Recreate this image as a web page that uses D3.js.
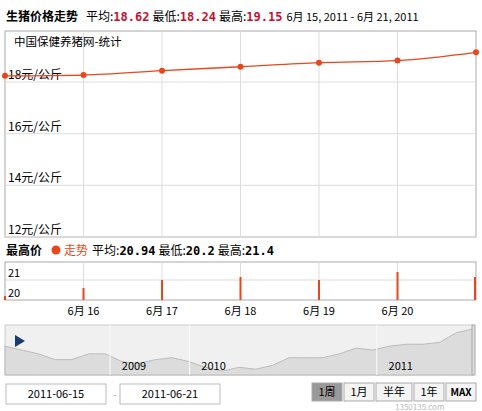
<!DOCTYPE html><html><head><meta charset="utf-8"><script src="https://cdn.jsdelivr.net/npm/d3@7"></script>
<style>body{margin:0;background:#fff;font-family:"Noto Sans CJK SC","DejaVu Sans",sans-serif}</style></head><body><svg id="c" width="482" height="411"></svg>
<script>
const dates=["6月 15","6月 16","6月 17","6月 18","6月 19","6月 20","6月 21"];
const dayLabels=["6月  16","6月  17","6月  18","6月  19","6月  20"];
const avgPrice=[18.24,18.27,18.44,18.59,18.75,18.83,19.15];
const highPrice=[20.2,20.6,21.0,21.15,21.0,21.4,21.15];
const yTicks=[18,16,14,12];
const barTicks=[21,20];
const navValues=[19,18.8,18.6,18.3,18.3,18.6,18.6,18.2,18.1,18.3,18.4,18.2,17.9,17.7,17.9,17.8,18.0,18.4,18.4,18.4,18.6,18.9,18.8,19.0,19.1,19.1,19.2,19.7,19.9];
const navYears=[{t:"2009",x:0.25},{t:"2010",x:0.42},{t:"2011",x:0.82}];
const svg=d3.select("#c");
const red="#e8471c";
const t=svg.append("text").attr("x",6).attr("y",21).attr("font-size",12);
t.append("tspan").attr("font-weight","bold").text("生猪价格走势");
t.append("tspan").attr("dx",8).text("平均:");
t.append("tspan").attr("fill","#c8102e").attr("font-weight","bold").attr("font-family","DejaVu Sans Mono").text("18.62");
t.append("tspan").attr("dx",3).text("最低:");
t.append("tspan").attr("fill","#c8102e").attr("font-weight","bold").attr("font-family","DejaVu Sans Mono").text("18.24");
t.append("tspan").attr("dx",3).text("最高:");
t.append("tspan").attr("fill","#c8102e").attr("font-weight","bold").attr("font-family","DejaVu Sans Mono").text("19.15");
t.append("tspan").attr("dx",4).attr("font-size",11).text("6月 15, 2011 - 6月 21, 2011");
const x=d3.scalePoint().domain(dates).range([5,476]);
const y=d3.scaleLinear().domain([12,18]).range([237,82]);
svg.append("rect").attr("x",5).attr("y",31).attr("width",471).attr("height",206).attr("fill","none").attr("stroke","#aaa");
dates.slice(1,6).forEach(d=>svg.append("line").attr("x1",x(d)).attr("x2",x(d)).attr("y1",31).attr("y2",237).attr("stroke","#ddd"));
yTicks.forEach(v=>{svg.append("line").attr("x1",5).attr("x2",476).attr("y1",y(v)).attr("y2",y(v)).attr("stroke","#ddd");
 svg.append("text").attr("x",8).attr("y",y(v)-3).attr("font-size",12).text(v+"元/公斤");});
svg.append("text").attr("x",14).attr("y",46).attr("font-size",11.5).text("中国保健养猪网-统计");
svg.append("path").datum(avgPrice).attr("fill","none").attr("stroke",red).attr("stroke-width",1.3)
 .attr("d",d3.line().x((d,i)=>x(dates[i])).y(d=>y(d)).curve(d3.curveMonotoneX));
svg.selectAll(".p").data(avgPrice).join("circle").attr("cx",(d,i)=>x(dates[i])).attr("cy",d=>y(d)).attr("r",3).attr("fill",red);
const t2=svg.append("text").attr("x",6).attr("y",255).attr("font-size",12);
t2.append("tspan").attr("font-weight","bold").text("最高价");
t2.append("tspan").attr("dx",22).attr("fill",red).text("走势");
t2.append("tspan").attr("dx",4).text("平均:");
t2.append("tspan").attr("font-weight","bold").attr("font-family","DejaVu Sans Mono").text("20.94");
t2.append("tspan").attr("dx",3).text("最低:");
t2.append("tspan").attr("font-weight","bold").attr("font-family","DejaVu Sans Mono").text("20.2");
t2.append("tspan").attr("dx",3).text("最高:");
t2.append("tspan").attr("font-weight","bold").attr("font-family","DejaVu Sans Mono").text("21.4");
svg.append("circle").attr("cx",56).attr("cy",250).attr("r",4.5).attr("fill",red);
const yb=d3.scaleLinear().domain([20,21]).range([300,280]);
svg.append("rect").attr("x",5).attr("y",262).attr("width",471).attr("height",38).attr("fill","none").attr("stroke","#aaa");
dates.slice(1,6).forEach(d=>svg.append("line").attr("x1",x(d)).attr("x2",x(d)).attr("y1",262).attr("y2",300).attr("stroke","#ddd"));
svg.append("line").attr("x1",5).attr("x2",476).attr("y1",yb(21)).attr("y2",yb(21)).attr("stroke","#ddd");
barTicks.forEach(v=>svg.append("text").attr("x",8).attr("y",yb(v)-3).attr("font-size",11).text(v));
svg.selectAll(".b").data(highPrice).join("rect").attr("x",(d,i)=>Math.min(x(dates[i])-1,474)).attr("width",2).attr("y",d=>yb(d)).attr("height",d=>300-yb(d)).attr("fill",red);
dayLabels.forEach((l,i)=>svg.append("text").attr("x",x(dates[i+1])).attr("y",315).attr("text-anchor","middle").attr("font-size",11).text(l));
svg.append("rect").attr("x",5).attr("y",325).attr("width",468).attr("height",50).attr("fill","#f0f0f0").attr("stroke","#ccc");
const xn=d3.scaleLinear().domain([0,navValues.length-1]).range([5,473]);
const yn=d3.scaleLinear().domain([17.5,20]).range([375,327]);
svg.append("path").datum(navValues).attr("fill","#dcdcdc").attr("stroke","#bbb")
 .attr("d",d3.area().x((d,i)=>xn(i)).y0(375).y1(d=>yn(d)));
navYears.forEach(o=>{const xx=5+o.x*468;svg.append("line").attr("x1",xx-12).attr("x2",xx-12).attr("y1",325).attr("y2",375).attr("stroke","#fafafa");
 svg.append("text").attr("x",xx+12).attr("y",370).attr("text-anchor","middle").attr("font-size",11).text(o.t);});
svg.append("path").attr("d","M15,335L25,341L15,347Z").attr("fill","#1a3a6e");
svg.append("rect").attr("x",472).attr("y",325).attr("width",3).attr("height",50).attr("fill","#ddd").attr("stroke","#aaa");
[[6,"2011-06-15"],[120,"2011-06-21"]].forEach(([xx,s])=>{svg.append("rect").attr("x",xx).attr("y",384).attr("width",100).attr("height",20).attr("fill","#fff").attr("stroke","#bbb");
 svg.append("text").attr("x",xx+50).attr("y",398).attr("text-anchor","middle").attr("font-size",11).text(s);});
svg.append("text").attr("x",113).attr("y",398).attr("font-size",10).attr("fill","#aaa").text("-");
const btns=[["1周",312,30],["1月",344,30],["半年",376,36],["1年",414,30],["MAX",446,30]];
btns.forEach(([s,xx,w],i)=>{svg.append("rect").attr("x",xx).attr("y",383).attr("width",w).attr("height",18).attr("fill",i==0?"#999":"#f4f4f4").attr("stroke","#aaa");
 svg.append("text").attr("x",xx+w/2).attr("y",396).attr("text-anchor","middle").attr("font-size",i==4?10:11).attr("font-weight",i==4?"bold":"normal").text(s);});
svg.append("text").attr("x",395).attr("y",410).attr("font-size",8).attr("fill","#bbb").text("1350135.com");
</script></body></html>
